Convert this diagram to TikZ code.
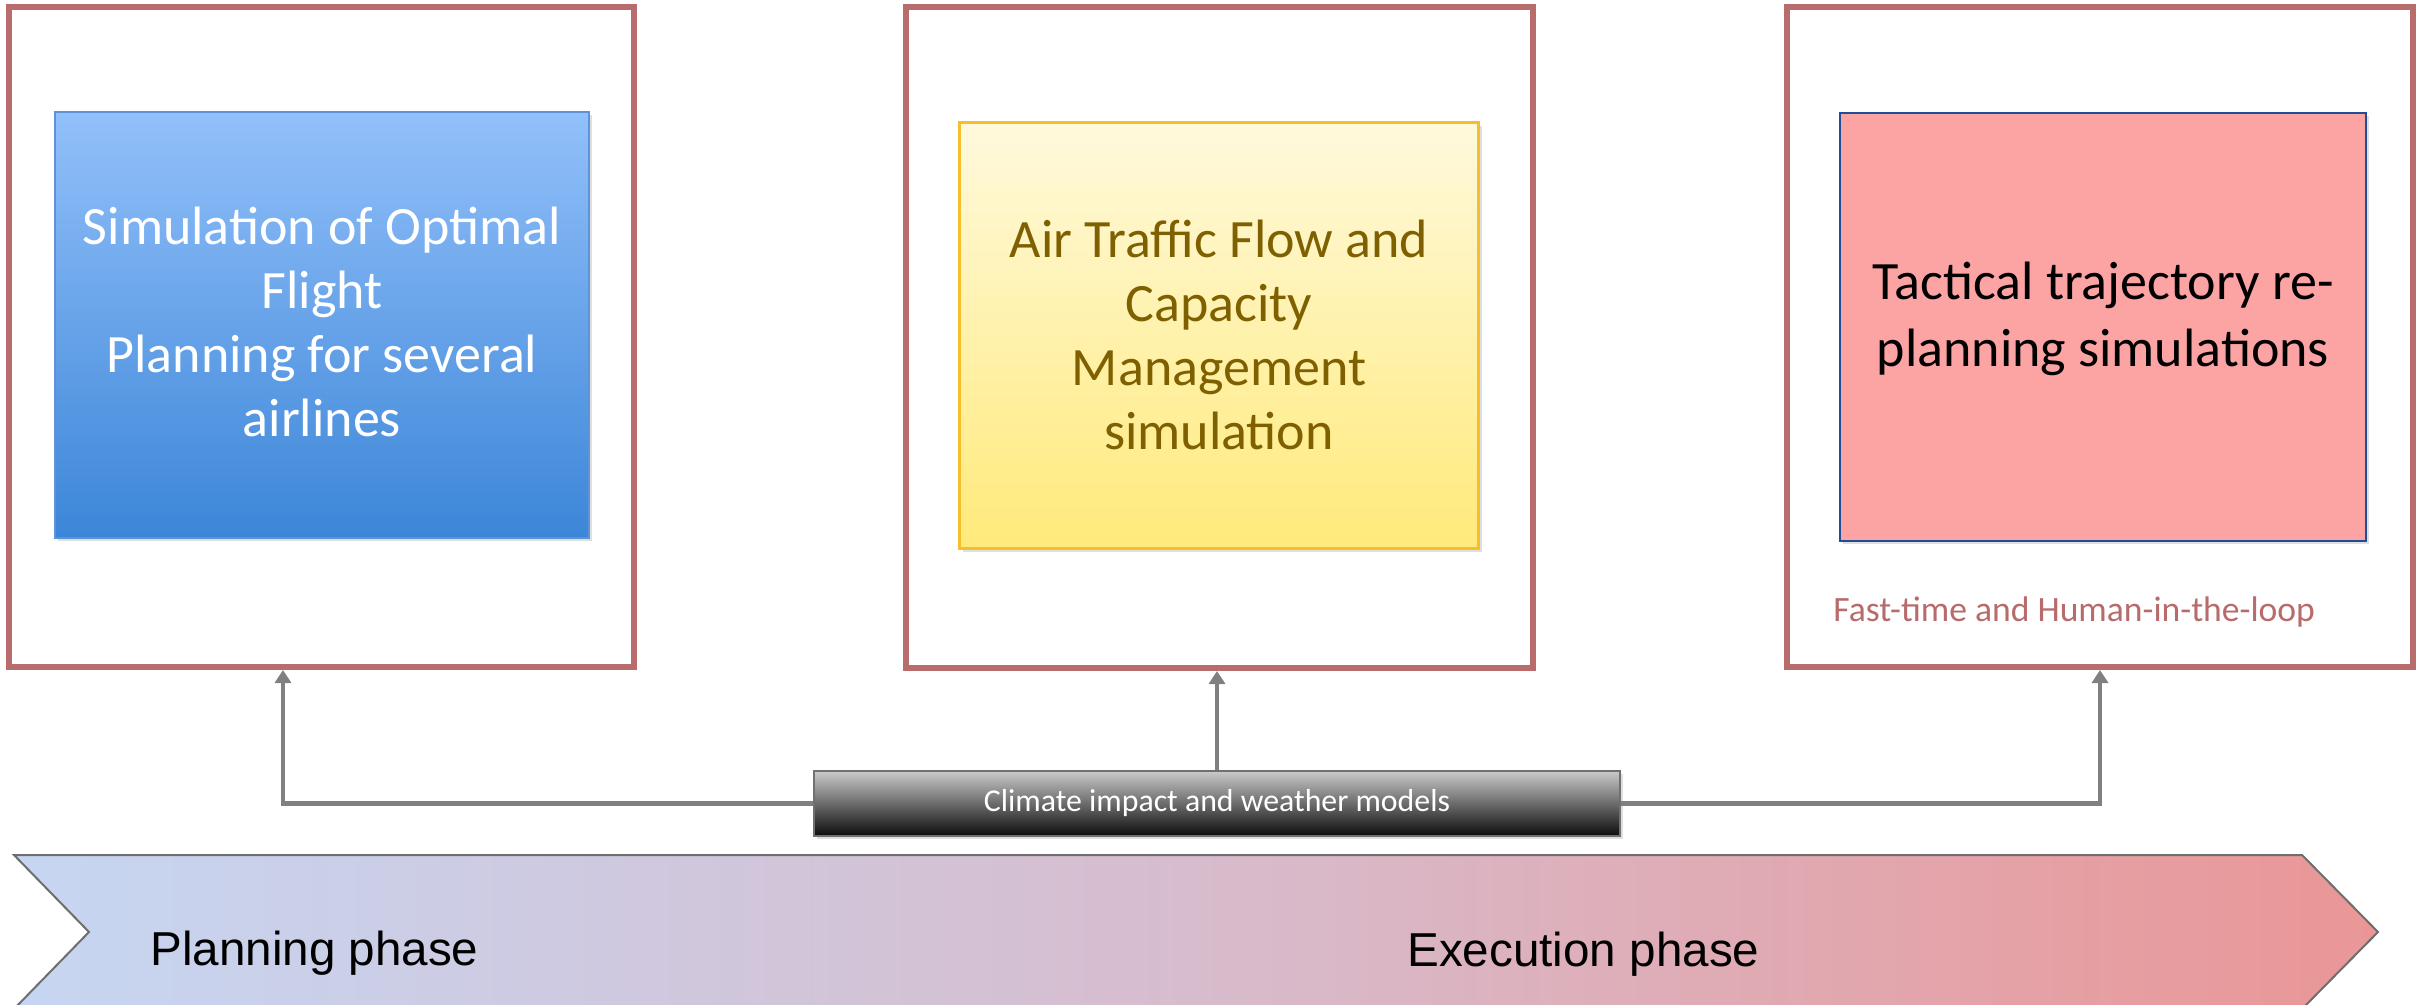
\documentclass[tikz,border=0pt]{standalone}
\usepackage{fontspec}
\setmainfont{Carlito}
\newfontfamily\arialf{Liberation Sans}
\usetikzlibrary{arrows.meta,shadows,calc}
\definecolor{frameC}{RGB}{185,108,108}
\definecolor{blueT}{RGB}{146,192,250}
\definecolor{blueB}{RGB}{60,134,216}
\definecolor{blueE}{RGB}{94,147,216}
\definecolor{yelT}{RGB}{255,249,221}
\definecolor{yelB}{RGB}{255,234,122}
\definecolor{yelE}{RGB}{246,190,44}
\definecolor{yelText}{RGB}{127,96,0}
\definecolor{pinkF}{RGB}{252,163,164}
\definecolor{pinkE}{RGB}{31,78,153}
\definecolor{arrC}{RGB}{128,128,128}
\definecolor{climT}{RGB}{202,202,202}
\definecolor{climB}{RGB}{12,12,12}
\definecolor{climE}{RGB}{112,112,112}
\definecolor{chevL}{RGB}{198,214,242}
\definecolor{chevM}{RGB}{215,188,205}
\definecolor{chevR}{RGB}{234,150,150}
\definecolor{chevE}{RGB}{110,110,110}
\definecolor{noteC}{RGB}{183,107,107}
\begin{document}
\begin{tikzpicture}[x=0.5pt,y=-0.5pt,
  frame/.style={draw=frameC, line width=3pt, fill=white, inner sep=0pt},
  inbox/.style={inner sep=0pt, drop shadow={shadow xshift=1.5pt, shadow yshift=-1.5pt, opacity=0.25}},
  boxtext/.style={font=\fontsize{27}{32}\selectfont, align=center, inner sep=0pt},
  arr/.style={draw=arrC, line width=2.3pt, -{Triangle[length=6.5pt,width=8pt]}},
  phase/.style={font=\arialf\fontsize{23.8}{28}\selectfont, anchor=base west, inner sep=0pt}
]
\useasboundingbox (0,0) rectangle (2422,1005);
\clip (0,0) rectangle (2422,1005);
\fill[white] (0,0) rectangle (2422,1005);

% phase chevron
\draw[draw=chevE, line width=1pt, left color=chevL, right color=chevR, middle color=chevM]
  (14,855) -- (2302,855) -- (2378,932) -- (2302,1009) -- (14,1009) -- (89,932) -- cycle;
\node[phase] (plan) at (150,965) {Planning phase};
\node[phase] (exec) at (1407,966) {Execution phase};

% outer frames
\node[frame, minimum width=312.5pt, minimum height=330pt] (b1) at (321.5,337) {};
\node[frame, minimum width=313.5pt, minimum height=330.5pt] (b2) at (1219.5,337.5) {};
\node[frame, minimum width=313pt, minimum height=330pt] (b3) at (2100,337) {};

% inner boxes
\node[inbox, draw=blueE, line width=0.8pt, top color=blueT, bottom color=blueB,
  minimum width=267pt, minimum height=213pt] (i1) at (322,325) {};
\node[inbox, draw=yelE, line width=1.5pt, top color=yelT, bottom color=yelB,
  minimum width=259.5pt, minimum height=213pt] (i2) at (1219,336) {};
\node[inbox, draw=pinkE, line width=1.4pt, fill=pinkF,
  minimum width=263pt, minimum height=214pt] (i3) at (2103,327) {};

\node[boxtext, text=white] (t1) at (322,322) {Simulation of Optimal\\Flight\\Planning for several\\airlines};
\node[boxtext, text=yelText] (t2) at (1219,334.5) {Air Traffic Flow and\\Capacity\\Management\\simulation};
\node[boxtext, text=black, font=\fontsize{27}{33.5}\selectfont] (t3) at (2103,319) {Tactical trajectory re-\\planning simulations};

\node[font=\fontsize{17.8}{21}\selectfont, text=noteC, anchor=base west, inner sep=0pt] (note) at (1833,622) {Fast-time and Human-in-the-loop};

% climate box
\node[inner sep=0pt, draw=climE, line width=1.2pt, top color=climT, bottom color=climB,
  minimum width=403pt, minimum height=32.5pt,
  drop shadow={shadow xshift=1.5pt, shadow yshift=-1.5pt, opacity=0.25},
  font=\fontsize{15.9}{18}\selectfont, text=white] (cl) at (1217,803.5) {Climate impact and weather models};

% connectors
\draw[arr] (cl.west) -| ($(b1.south)+(-38.5,0)$);
\draw[arr] (cl.north) -- (cl.north |- b2.south);
\draw[arr] (cl.east) -| (b3.south);
\end{tikzpicture}
\end{document}
